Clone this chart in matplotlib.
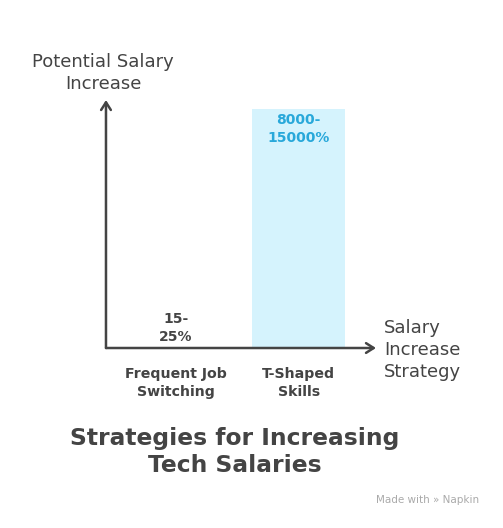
import matplotlib
matplotlib.use('Agg')
import matplotlib.pyplot as plt

# data
categories = ['Frequent Job\nSwitching', 'T-Shaped\nSkills']
low_values = [15, 8000]
high_values = [25, 15000]
value_labels = ['15-\n25%', '8000-\n15000%']
bar_colors = ['#ffffff', '#d5f3fd']
label_colors = ['#444444', '#28a8da']

title = 'Strategies for Increasing\nTech Salaries'
y_title = 'Potential Salary\nIncrease'
x_title = 'Salary\nIncrease\nStrategy'

plt.rcParams['font.family'] = ['DejaVu Sans']
dark = '#444444'

fig = plt.figure(figsize=[5.03, 5.28], dpi=100)
ax = fig.add_axes([0.2107, 0.3409, 0.5368, 0.4697])

x = list(range(len(categories)))
ax.bar(x, high_values, width=0.76, color=bar_colors, zorder=1)
ax.set_xlim(-0.57, 1.63)
ax.set_ylim(0, 15565)

# value labels
for i in x:
    if high_values[i] > 1000:
        ax.text(i, high_values[i] * 0.985, value_labels[i], ha='center', va='top',
                fontsize=10, fontweight='bold', color=label_colors[i], linespacing=1.4)
    else:
        ax.text(i, 250, value_labels[i], ha='center', va='bottom',
                fontsize=10, fontweight='bold', color=label_colors[i], linespacing=1.4)

for s in ax.spines.values():
    s.set_visible(False)
ax.set_yticks([])
ax.set_xticks(x)
ax.set_xticklabels(categories, fontsize=10.2, fontweight='bold', color=dark, linespacing=1.35)
ax.tick_params(axis='x', length=0, pad=14)

# axis arrows
arrow = dict(arrowstyle='->,head_length=0.55,head_width=0.35', color=dark, lw=1.8,
             shrinkA=0, shrinkB=0)
ax.annotate('', xy=(0, 1.0), xytext=(0, 0), xycoords='axes fraction', arrowprops=arrow)
ax.annotate('', xy=(1.0, 0), xytext=(0, 0), xycoords='axes fraction', arrowprops=arrow)

fig.text(103 / 503, 1 - 73 / 528, y_title, ha='center', va='center',
         fontsize=13, color=dark, linespacing=1.3)
fig.text(384 / 503, 1 - 350 / 528, x_title, ha='left', va='center',
         fontsize=13, color=dark, linespacing=1.3)

fig.text(235 / 503, 1 - 452 / 528, title, ha='center', va='center',
         fontsize=16.8, fontweight='bold', color=dark, linespacing=1.2)

fig.text(479 / 503, 1 - 500 / 528, 'Made with \u00bb Napkin', ha='right', va='center',
         fontsize=7.5, color='#aaaaaa')

fig.savefig('out.png', dpi=100)
